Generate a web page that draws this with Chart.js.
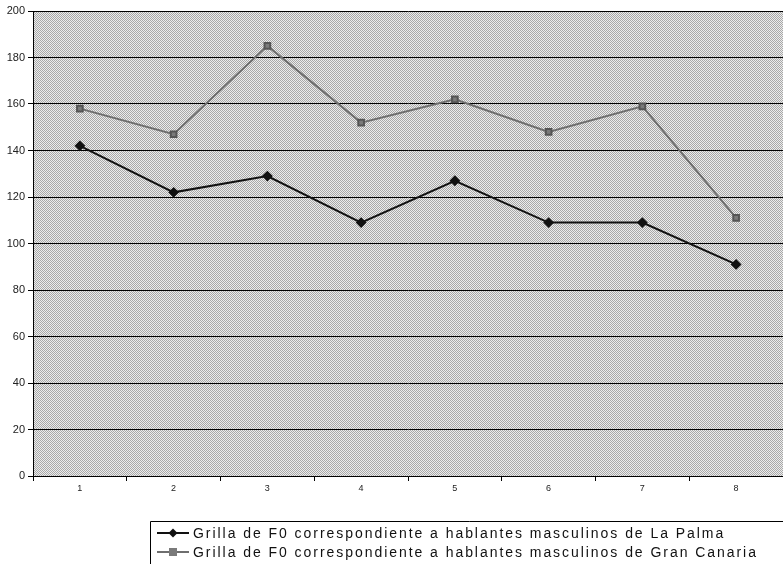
<!DOCTYPE html>
<html>
<head>
<meta charset="utf-8">
<script src="https://cdn.jsdelivr.net/npm/chart.js@4"></script>
<style>
  html, body { margin: 0; padding: 0; background: #fff; overflow: hidden; }
  #wrap { width: 783px; height: 564px; overflow: hidden; }
</style>
</head>
<body>
<div id="wrap"><canvas id="myChart" width="789" height="564"></canvas></div>
<script>
// data
const labels = ['1', '2', '3', '4', '5', '6', '7', '8'];
const laPalma = [142, 122, 129, 109, 127, 109, 109, 91];
const granCanaria = [158, 147, 185, 152, 162, 148, 159, 111];
const seriesNames = [
  'Grilla de F0 correspondiente a hablantes masculinos de La Palma',
  'Grilla de F0 correspondiente a hablantes masculinos de Gran Canaria'
];

// dithered grey like the scanned plot area
function makePattern() {
  const c = document.createElement('canvas');
  c.width = 4; c.height = 4;
  const g = c.getContext('2d');
  g.fillStyle = '#ececec';
  g.fillRect(0, 0, 4, 4);
  g.fillStyle = '#a8a8a8';
  for (let y = 0; y < 4; y++)
    for (let x = 0; x < 4; x++)
      if ((x + y) % 2 == 0) g.fillRect(x, y, 1, 1);
  return g.createPattern(c, 'repeat');
}

const areaBg = {
  id: 'areaBg',
  beforeDraw(chart) {
    const {ctx, chartArea: a} = chart;
    ctx.save();
    ctx.fillStyle = makePattern();
    ctx.fillRect(a.left, a.top, a.right - a.left, a.bottom - a.top);
    ctx.restore();
  }
};

// legend box at the bottom, drawn from the dataset styles
const boxLegend = {
  id: 'boxLegend',
  afterDraw(chart) {
    const ctx = chart.ctx;
    ctx.save();
    ctx.strokeStyle = '#000';
    ctx.lineWidth = 1;
    ctx.beginPath();
    ctx.moveTo(150.5, 564);
    ctx.lineTo(150.5, 521.5);
    ctx.lineTo(789, 521.5);
    ctx.stroke();
    chart.data.datasets.forEach((ds, i) => {
      const y = 533 + i * 19;
      ctx.strokeStyle = ds.borderColor;
      ctx.lineWidth = 2;
      ctx.beginPath();
      ctx.moveTo(157, y);
      ctx.lineTo(189, y);
      ctx.stroke();
      ctx.fillStyle = ds.pointBackgroundColor;
      ctx.beginPath();
      if (ds.pointStyle == 'rectRot') {
        ctx.moveTo(173, y - 4.5); ctx.lineTo(177.5, y); ctx.lineTo(173, y + 4.5); ctx.lineTo(168.5, y);
      } else {
        ctx.rect(169, y - 4, 8, 8);
      }
      ctx.closePath();
      ctx.fill();
      ctx.fillStyle = '#111';
      ctx.font = '14px "Liberation Sans", Arial, sans-serif';
      ctx.letterSpacing = '1.95px';
      ctx.textBaseline = 'middle';
      ctx.fillText(ds.label, 193, y + 1);
    });
    ctx.restore();
  }
};

const data = {
  labels: labels,
  datasets: [{
    label: seriesNames[0],
    data: laPalma,
    borderColor: '#111',
    backgroundColor: '#111',
    pointBackgroundColor: '#111',
    pointBorderColor: '#111',
    pointStyle: 'rectRot',
    pointRadius: 4,
    borderWidth: 2,
    tension: 0
  }, {
    label: seriesNames[1],
    data: granCanaria,
    borderColor: '#6e6e6e',
    backgroundColor: '#6e6e6e',
    pointBackgroundColor: '#7a7a7a',
    pointBorderColor: '#555',
    pointStyle: 'rect',
    pointRadius: 4,
    borderWidth: 2,
    tension: 0
  }]
};

const config = {
  type: 'line',
  data: data,
  plugins: [areaBg, boxLegend],
  options: {
    responsive: false,
    animation: false,
    layout: { padding: { top: 11, right: 0, left: 0, bottom: 0 } },
    plugins: { legend: { display: false }, tooltip: { enabled: false } },
    scales: {
      x: {
        offset: true,
        grid: { offset: true, drawOnChartArea: false, color: '#000', tickLength: 5 },
        border: { color: '#000', width: 1 },
        ticks: { color: '#222', font: { family: 'Liberation Sans, Arial', size: 9 }, padding: 2 },
        afterFit(scale) { scale.height = 88; }
      },
      y: {
        min: 0,
        max: 200,
        ticks: { stepSize: 20, color: '#222', font: { family: 'Liberation Sans, Arial', size: 11 }, padding: 3 },
        grid: { color: '#000', lineWidth: 1, tickLength: 5 },
        border: { color: '#000', width: 1 },
        afterFit(scale) { scale.width = 33; }
      }
    }
  }
};

const myChart = new Chart(document.getElementById('myChart'), config);
</script>
</body>
</html>
